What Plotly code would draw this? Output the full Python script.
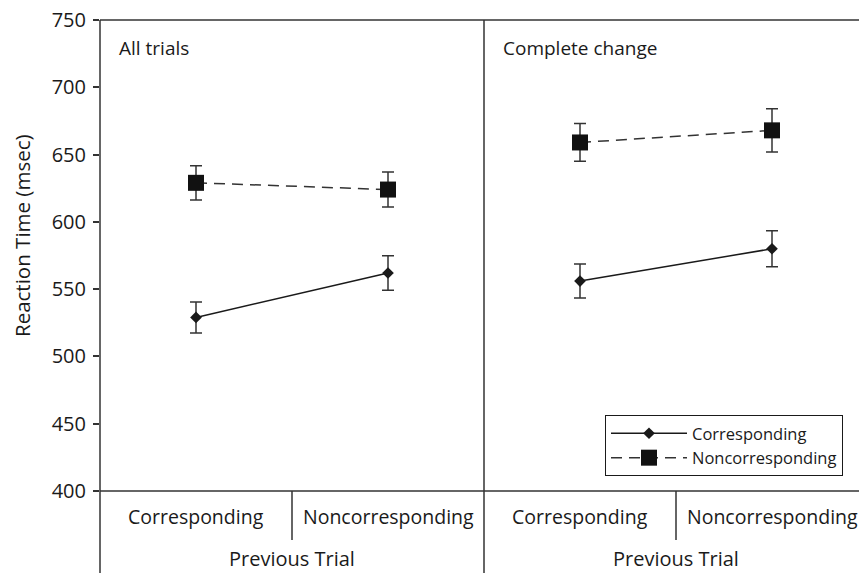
import plotly.graph_objects as go

# ---- data ----
categories = ["Corresponding", "Noncorresponding"]
panels = ["All trials", "Complete change"]
series_names = ["Corresponding", "Noncorresponding"]

corr_all = [529, 562]
corr_all_err = [11.5, 12.8]
nonc_all = [629, 624]
nonc_all_err = [12.7, 13.0]

corr_cc = [556, 580]
corr_cc_err = [12.6, 13.3]
nonc_cc = [659, 668]
nonc_cc_err = [14.0, 16.0]

y_ticks = [400, 450, 500, 550, 600, 650, 700, 750]
x_axis_title = "Previous Trial"
y_axis_title = "Reaction Time (msec)"

# ---- layout constants ----
W, H = 859, 573
ML, MR, MT, MB = 100, 0, 20, 82
plot_w = W - ML - MR
plot_h = H - MT - MB
unit_px = 192.0
XR = plot_w / unit_px  # x range upper bound in data units

FONT = "Open Sans"
INK = "#1a1a1a"
GREY = "#333333"


def xpos(panel, cat):
    return panel * 2 + cat + 0.5


def px_to_paper_y(py):
    return (MT + plot_h - py) / plot_h


fig = go.Figure()

data_sets = [
    (corr_all, corr_all_err, nonc_all, nonc_all_err),
    (corr_cc, corr_cc_err, nonc_cc, nonc_cc_err),
]

for p, (cv, ce, nv, ne) in enumerate(data_sets):
    xs = [xpos(p, i) for i in range(len(categories))]
    fig.add_trace(go.Scatter(
        x=xs, y=cv, mode="lines+markers", name=series_names[0],
        legendgroup="c", showlegend=(p == 0),
        line=dict(color=INK, width=1.5),
        marker=dict(symbol="diamond", size=9, color=INK),
        error_y=dict(type="data", array=ce, visible=True, color=GREY,
                     thickness=1.5, width=6),
    ))
    fig.add_trace(go.Scatter(
        x=xs, y=nv, mode="lines+markers", name=series_names[1],
        legendgroup="n", showlegend=(p == 0),
        line=dict(color=GREY, width=1.5, dash="11px,7px"),
        marker=dict(symbol="square", size=16, color="#111111"),
        error_y=dict(type="data", array=ne, visible=True, color=GREY,
                     thickness=1.5, width=6),
    ))

shapes = []
line_style = dict(color=GREY, width=1.5)
# top line and baseline
for yv in [1.0, 0.0]:
    shapes.append(dict(type="line", xref="paper", yref="paper",
                       x0=0, x1=1, y0=yv, y1=yv, line=line_style))
bottom_paper = px_to_paper_y(H)
small_paper = px_to_paper_y(540)
# left axis line and middle panel divider (full height, down to bottom)
for xd in [0.0, 2.0]:
    shapes.append(dict(type="line", xref="paper", yref="paper",
                       x0=xd / XR, x1=xd / XR, y0=1.0, y1=bottom_paper,
                       line=line_style))
# category dividers
for xd in [1.0, 3.0]:
    shapes.append(dict(type="line", xref="paper", yref="paper",
                       x0=xd / XR, x1=xd / XR, y0=0.0, y1=small_paper,
                       line=line_style))

annotations = []
cat_y = px_to_paper_y(516)
title_y = px_to_paper_y(558)
for p in range(len(panels)):
    for i, c in enumerate(categories):
        annotations.append(dict(x=xpos(p, i), y=cat_y, xref="x", yref="paper",
                                text=c, showarrow=False, xanchor="center",
                                yanchor="middle",
                                font=dict(family=FONT, size=19.5, color=INK)))
    annotations.append(dict(x=p * 2 + 1.0, y=title_y, xref="x", yref="paper",
                            text=x_axis_title, showarrow=False,
                            xanchor="center", yanchor="middle",
                            font=dict(family=FONT, size=20, color=INK)))
    annotations.append(dict(x=p * 2 + 17 / unit_px, y=px_to_paper_y(48),
                            xref="x", yref="paper", text=panels[p],
                            showarrow=False, xanchor="left", yanchor="middle",
                            font=dict(family=FONT, size=19, color=INK)))

annotations.append(dict(x=(22 - ML) / plot_w, y=px_to_paper_y(236),
                        xref="paper", yref="paper", text=y_axis_title,
                        textangle=-90, showarrow=False, xanchor="center",
                        yanchor="middle",
                        font=dict(family=FONT, size=20.5, color=INK)))

fig.update_layout(
    width=W, height=H,
    margin=dict(l=ML, r=MR, t=MT, b=MB, autoexpand=False),
    paper_bgcolor="white", plot_bgcolor="white",
    showlegend=True,
    legend=dict(x=(605 - ML) / plot_w, y=px_to_paper_y(415),
                xanchor="left", yanchor="top",
                bordercolor=INK, borderwidth=1, bgcolor="white",
                font=dict(family=FONT, size=16.5, color=INK),
                itemwidth=76, tracegroupgap=0),
    xaxis=dict(range=[0, XR], showgrid=False, zeroline=False,
               showticklabels=False, ticks="", showline=False,
               fixedrange=True),
    yaxis=dict(range=[400, 750], tickvals=y_ticks, showgrid=False,
               zeroline=False, ticks="outside", ticklen=6, tickwidth=1.5,
               tickcolor=GREY, showline=False, ticklabelstandoff=3,
               tickfont=dict(family=FONT, size=20, color=INK),
               fixedrange=True),
    shapes=shapes,
    annotations=annotations,
)

fig.write_html(
    "out.html",
    config={"displayModeBar": False},
    post_script="document.body.style.margin='0';document.body.style.overflow='hidden';",
)
